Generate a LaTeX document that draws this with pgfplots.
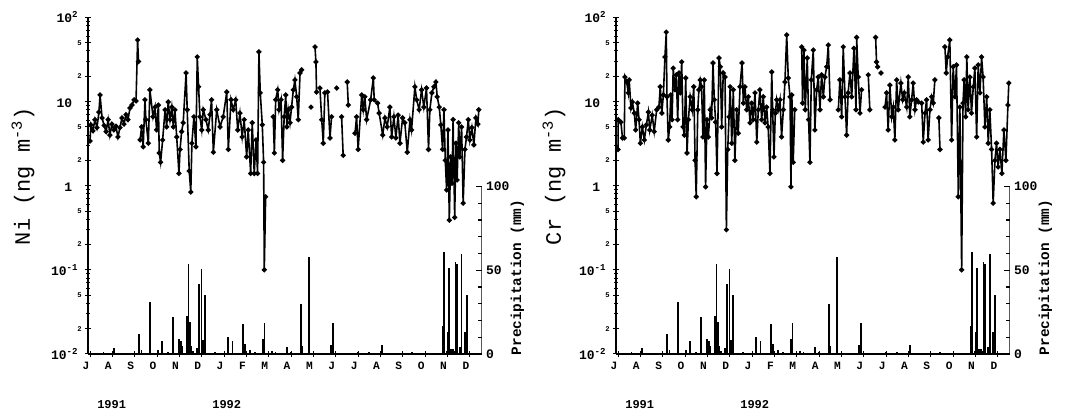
\documentclass[border=0pt]{standalone}
\usepackage{fontspec}
\setmainfont{Liberation Mono}
\usepackage{pgfplots}
\usepackage{pgfplotstable}
\pgfplotsset{compat=1.18}

\pgfplotstableread{
m v
0.00 3.4
0.04 5.3
0.13 4.5
0.22 6.1
0.31 4.9
0.40 7.5
0.45 12.0
0.54 6.4
0.63 5.2
0.72 4.4
0.81 6.1
0.89 4.0
0.98 5.4
1.07 4.6
1.16 5.1
1.25 3.8
1.34 4.9
1.43 6.4
1.52 5.4
1.61 7.0
1.70 6.1
1.79 8.4
1.88 9.1
1.97 10.5
2.06 10.2
2.13 54
2.17 30
2.20 nan
2.24 3.5
2.31 5.0
2.38 2.9
2.46 10.5
2.50 6.1
2.61 3.2
2.68 13.8
2.82 6.6
2.91 8.6
2.98 4.6
3.06 9.1
3.10 2.45
3.16 1.9
3.25 3.5
3.36 8.0
3.43 5.0
3.50 9.9
3.58 6.1
3.66 8.6
3.73 5.0
3.80 8.0
3.88 3.8
3.98 1.4
4.03 2.7
4.10 4.4
4.17 5.6
4.30 21.9
4.35 8.0
4.44 1.5
4.51 0.84
4.56 3.2
4.65 6.6
4.74 2.9
4.80 34
4.86 15
4.92 6.6
5.00 4.6
5.07 8.0
5.19 6.1
5.29 4.6
5.37 7.0
5.44 10.5
5.52 2.5
5.67 8.0
5.82 5.0
5.96 6.6
6.12 13.0
6.19 2.7
6.31 10.5
6.41 8.0
6.52 10.5
6.61 4.6
6.71 7.3
6.81 3.8
6.90 6.1
7.01 2.2
7.08 4.6
7.19 1.4
7.26 5.6
7.35 1.4
7.43 3.5
7.50 1.4
7.56 39
7.62 12.7
7.71 5.3
7.77 1.9
7.80 0.10
7.86 0.74
8.00 nan
8.20 6.6
8.25 2.45
8.31 10.5
8.40 13.8
8.46 8.0
8.55 10.5
8.62 2.0
8.69 6.6
8.76 12.0
8.81 5.0
8.87 8.0
8.95 5.6
9.02 8.6
9.10 13.8
9.17 18.1
9.25 11.4
9.32 6.1
9.40 21.9
9.47 23.8
9.60 nan
9.89 8.6
9.95 nan
10.07 44.7
10.11 29.6
10.14 13.0
10.20 nan
10.29 14.5
10.37 6.1
10.44 3.2
10.51 12.7
10.63 13.0
10.74 3.7
10.81 6.6
10.90 nan
11.04 14.5
11.10 nan
11.26 6.6
11.33 2.3
11.40 nan
11.51 17.1
11.56 9.1
11.70 nan
11.86 4.2
11.93 6.6
12.00 2.7
12.16 12.0
12.23 8.0
12.30 11.4
12.38 6.1
12.56 10.5
12.68 19.1
12.72 10.5
12.87 9.6
12.94 7.3
13.10 4.0
13.20 6.4
13.30 5.0
13.42 8.6
13.50 3.8
13.60 6.6
13.69 3.7
13.79 6.9
13.87 3.2
13.99 6.4
14.09 5.6
14.20 2.5
14.32 6.1
14.39 4.6
14.54 15.0
14.62 10.5
14.73 8.0
14.84 13.8
14.94 8.6
15.06 14.5
15.15 2.7
15.21 8.0
15.30 12.7
15.39 15.0
15.48 17.1
15.54 11.4
15.63 8.6
15.70 5.3
15.78 2.7
15.84 8.0
15.90 2.0
15.96 0.89
16.02 4.6
16.08 0.39
16.14 2.2
16.20 1.07
16.25 6.1
16.32 0.42
16.38 3.2
16.43 1.17
16.50 5.6
16.55 2.2
16.63 5.0
16.70 0.62
16.78 2.7
16.85 3.8
16.93 6.1
17.00 3.5
17.09 4.9
17.18 3.06
17.27 6.4
17.36 5.4
17.40 8.0
}\nidata

\pgfplotstableread{
m v
0.00 2.7
0.01 6.1
0.13 5.7
0.20 3.7
0.28 3.7
0.31 19.6
0.39 17.1
0.46 12.7
0.50 18.1
0.58 8.4
0.64 9.9
0.73 7.3
0.79 4.6
0.88 9.6
0.94 6.1
1.00 3.2
1.09 5.0
1.18 3.5
1.27 5.3
1.36 7.5
1.42 4.6
1.53 6.9
1.62 4.4
1.73 8.0
1.83 8.6
1.89 15.0
1.96 7.3
2.03 12.0
2.10 34
2.16 67
2.19 11.4
2.25 3.5
2.31 5.0
2.36 12.0
2.42 6.1
2.47 25
2.55 13.8
2.61 20.8
2.67 6.1
2.73 21.9
2.79 12.7
2.85 29.6
2.91 5.0
2.97 4.0
3.03 19.1
3.09 2.45
3.15 6.1
3.23 11.4
3.32 8.0
3.39 15.0
3.45 2.0
3.50 0.74
3.57 8.0
3.62 13.8
3.68 18.1
3.74 15.0
3.80 3.8
3.86 18.1
3.92 0.97
3.98 6.1
4.04 3.8
4.13 8.0
4.19 6.4
4.25 28.8
4.31 10.5
4.37 5.7
4.43 1.4
4.52 33
4.58 26
4.64 5.0
4.71 21.9
4.79 19.6
4.85 0.30
4.91 2.7
4.97 6.6
5.02 15.0
5.09 3.2
5.16 13.8
5.23 2.0
5.31 8.0
5.38 4.2
5.46 15.0
5.55 28.8
5.61 9.6
5.68 15.0
5.76 8.0
5.83 11.4
5.91 5.6
5.98 9.6
6.05 6.1
6.13 12.7
6.21 3.3
6.28 8.0
6.35 13.8
6.43 6.1
6.50 11.4
6.58 5.6
6.65 8.6
6.72 5.0
6.80 1.4
6.88 22.5
6.92 8.0
6.98 2.2
7.04 7.3
7.10 10.5
7.17 8.0
7.25 10.5
7.32 3.8
7.40 8.0
7.47 17.1
7.55 62
7.62 19.1
7.70 11.4
7.74 0.97
7.78 12.0
7.84 1.9
7.91 8.0
8.05 nan
8.22 44.7
8.26 9.6
8.32 41
8.38 8.0
8.47 33
8.53 6.1
8.59 1.9
8.65 18.1
8.74 41
8.81 4.6
8.89 13.8
8.96 19.6
9.04 8.0
9.11 20.8
9.19 11.4
9.26 19.6
9.34 25.9
9.41 47
9.49 10.5
9.60 nan
9.86 8.0
9.93 18.1
10.01 6.6
10.08 44.7
10.16 11.4
10.23 4.0
10.30 12.7
10.38 21.9
10.46 11.4
10.56 43
10.65 8.0
10.68 58
10.75 19.6
10.83 7.3
10.90 13.8
11.00 nan
11.20 20.8
11.27 8.0
11.40 nan
11.53 58
11.57 29.6
11.62 25.9
11.70 nan
11.77 21.9
11.85 nan
11.95 8.6
12.02 12.7
12.09 4.6
12.17 15.7
12.25 6.6
12.32 8.6
12.39 3.5
12.47 18.1
12.54 8.0
12.66 16.6
12.74 10.5
12.81 12.7
12.92 8.6
12.99 19.6
13.06 6.6
13.14 10.5
13.21 16.6
13.29 8.0
13.36 10.5
13.44 9.9
13.59 9.6
13.66 3.3
13.74 7.3
13.81 10.5
13.88 3.5
13.96 8.0
14.04 11.4
14.11 9.6
14.18 18.1
14.27 nan
14.36 6.4
14.41 2.7
14.50 nan
14.63 44.7
14.69 21.9
14.75 34
14.85 54
14.93 3.5
15.00 26
15.08 11.4
15.15 27.3
15.23 0.74
15.30 8.6
15.38 0.10
15.44 9.6
15.49 18.1
15.56 6.6
15.61 34
15.67 8.0
15.75 19.6
15.82 7.3
15.90 15.0
15.97 25
16.05 3.8
16.12 27.3
16.20 12.7
16.27 34
16.34 19.6
16.42 5.0
16.50 11.4
16.57 3.2
16.64 8.0
16.72 2.7
16.79 0.62
16.87 2.0
16.94 3.2
17.01 1.67
17.09 2.7
17.18 1.4
17.27 4.6
17.36 2.0
17.45 9.1
17.49 16.6
}\crdata

\pgfplotstableread{
m p
0.60 1
1.06 3.5
1.40 0.8
2.18 12
2.30 2.5
2.70 31
3.03 2.5
3.22 8
3.50 1
3.73 22
3.99 9
4.06 7.5
4.14 4.5
4.33 22.5
4.38 12
4.41 54
4.47 19
4.54 5
4.60 2
4.79 3.5
4.88 42
4.99 51
5.06 8.5
5.16 35
5.59 1
5.80 0.8
6.19 10
6.38 8
6.84 18
6.95 6
7.15 2.5
7.40 1
7.73 9
7.81 18.5
8.14 1.5
8.30 1
8.81 4.2
9.00 1
9.43 30
9.50 4.5
9.81 58
10.00 1
10.80 5.3
10.89 18.5
11.30 0.8
11.99 1
12.50 1
13.05 5.2
13.50 0.8
14.40 1
15.00 0.8
15.78 17
15.83 61
15.95 2
16.01 13
16.08 51.5
16.15 3
16.24 2.7
16.30 2
16.36 55
16.44 53.5
16.55 4
16.63 60
16.78 13
16.86 35
}\precdata

\newcommand\tickfont{\fontsize{6.5}{7}\selectfont\bfseries}
\newcommand\smallfont{\fontsize{3.6}{4}\selectfont\bfseries}
\newcommand\monthfont{\fontsize{5.6}{6}\selectfont\bfseries}

\newcommand\panel[4]{%
  \begin{axis}[
    at={(#1pt,31pt)}, anchor=south west, scale only axis,
    width=196.85pt, height=168.25pt,
    xmin=-0.09, xmax=17.53,
    ymode=log, ymin=0.01, ymax=100,
    axis x line*=bottom, axis y line*=left,
    axis line style={-, line width=0.8pt},
    unbounded coords=jump,
    xtick={0,...,17},
    xticklabels={J,A,S,O,N,D,J,F,M,A,M,J,J,A,S,O,N,D},
    x tick label style={font=\monthfont, anchor=north, inner sep=0pt, yshift=-2.5pt, xshift=-2pt},
    ytick={0.01,0.1,1,10,100},
    yticklabels={10\textsuperscript{-2},10\textsuperscript{-1},1\phantom{\textsuperscript{2}},10\phantom{\textsuperscript{2}},10\textsuperscript{2}},
    y tick label style={font=\tickfont, anchor=east, inner sep=0pt, xshift=-3pt},
    extra y ticks={0.02,0.05,0.2,0.5,2,5,20,50},
    extra y tick labels={2,5,2,5,2,5,2,5},
    extra y tick style={y tick label style={font=\smallfont, xshift=1.5pt}},
    tick align=center,
    major tick length=3pt, minor tick length=1.6pt,
    tick style={line width=0.5pt, black},
  ]
    \addplot[black, line width=0.8pt, mark=*, mark size=0.85pt] table[x=m,y=v] {#2};
  \end{axis}
  \begin{axis}[
    at={(#1pt,31pt)}, anchor=south west, scale only axis,
    width=196.85pt, height=168.25pt,
    xmin=-0.09, xmax=17.53,
    ymin=0, ymax=201,
    axis x line=none, axis y line*=right,
    y axis line style={draw=none},
    ytick={0,50,100},
    minor ytick={10,20,30,40,60,70,80,90},
    tick align=inside,
    major tick length=3pt, minor tick length=2pt,
    tick style={line width=0.6pt, black},
    /pgf/number format/assume math mode=true,
    y tick label style={font=\tickfont, anchor=west, inner sep=0pt, xshift=2pt},
  ]
    \addplot[ycomb, black, line width=0.9pt, mark=none] table[x=m,y=p] {\precdata};
    \draw[line width=0.8pt] (axis cs:17.53,0) -- (axis cs:17.53,100);
  \end{axis}
  \node[rotate=90, font=\fontsize{11}{13}\selectfont] at (#3pt,120pt) {#4 (ng m\textsuperscript{-3})};
  \node[rotate=90, font=\fontsize{7.2}{8}\selectfont\bfseries] at ({#1pt+214.75pt},69.25pt) {Precipitation (mm)};
  \node[font=\fontsize{6}{7}\selectfont\bfseries] at ({#1pt+11.85pt},5.5pt) {1991};
  \node[font=\fontsize{6}{7}\selectfont\bfseries] at ({#1pt+69.35pt},5.5pt) {1992};
}

\begin{document}
\begin{tikzpicture}
\useasboundingbox (0pt,0pt) rectangle (536pt,208pt);
\panel{44}{\nidata}{11.5}{Ni}
\panel{308}{\crdata}{277}{Cr}
\end{tikzpicture}
\end{document}
